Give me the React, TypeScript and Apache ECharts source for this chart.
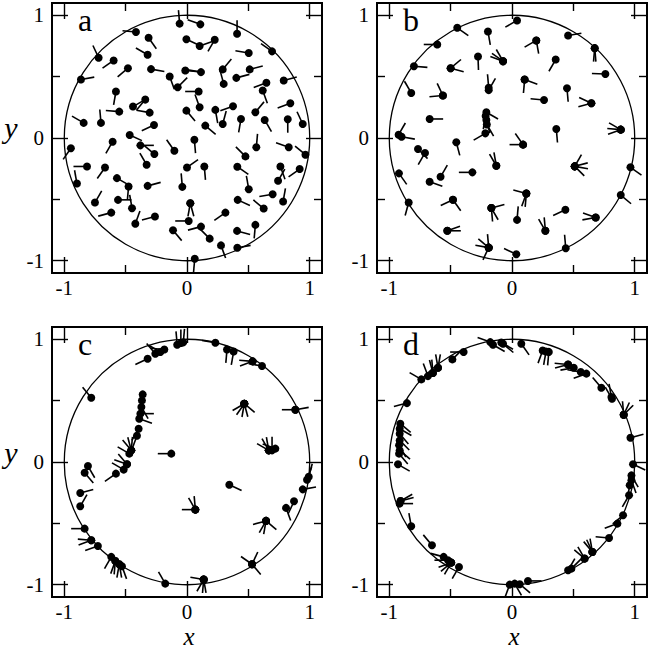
import React, { useEffect, useRef } from "react";
import * as echarts from "echarts";

// ---- data: [x, y, tail angle in degrees] (repeated x,y = several tails on one spot)
const PANEL_A: number[][] = [
  [-0.06, 0.932, 95], [0.109, 0.926, 160], [0.408, 0.85, 90], [-0.416, 0.864, 175],
  [-0.313, 0.817, -55], [-0.005, 0.804, -25], [0.103, 0.749, 20], [0.226, 0.801, -120],
  [-0.72, 0.654, 115], [-0.598, 0.632, -145], [-0.321, 0.678, 150], [0.503, 0.692, 170],
  [0.693, 0.706, 145], [-0.481, 0.569, -140], [-0.293, 0.561, -10], [-0.014, 0.55, -5],
  [0.114, 0.537, 170], [-0.141, 0.501, -70], [-0.076, 0.414, 45], [0.291, 0.559, 50],
  [0.299, 0.441, 105], [0.511, 0.559, 15], [0.402, 0.49, 15], [-0.864, 0.477, 10],
  [0.647, 0.45, -160], [0.788, 0.469, 15], [-0.579, 0.379, -100], [0.095, 0.379, 180],
  [0.617, 0.387, -70], [-0.34, 0.313, -130], [-0.44, 0.256, 30], [-0.552, 0.215, 175],
  [-0.304, 0.207, 170], [0.103, 0.251, 110], [-0.005, 0.223, -50], [0.231, 0.229, -80],
  [0.375, 0.259, -160], [0.557, 0.21, 50], [0.842, 0.283, -160], [-0.842, 0.123, 150],
  [-0.701, 0.123, 95], [-0.269, 0.106, -155], [0.149, 0.101, -40], [0.291, 0.114, 75],
  [0.44, 0.155, -100], [0.633, 0.147, -60], [0.821, 0.153, -90], [0.943, 0.114, 115],
  [-0.467, 0.025, -25], [-0.38, -0.06, 0], [-0.266, -0.131, 140], [-0.606, -0.03, -120],
  [-0.103, -0.104, 125], [0.06, -0.014, -85], [0.565, -0.076, 85], [0.829, -0.076, 160],
  [0.965, -0.136, 140], [0.476, -0.15, 135], [-0.946, -0.084, -125], [-0.329, -0.218, 120],
  [-0.815, -0.232, 180], [-0.668, -0.24, -125], [0, -0.24, 35], [0.141, -0.232, -85],
  [0.41, -0.234, -35], [0.761, -0.232, -70], [0.742, -0.349, 60], [-0.897, -0.371, 100],
  [-0.571, -0.327, -30], [-0.476, -0.395, -95], [-0.321, -0.39, 15], [-0.038, -0.398, 95],
  [0.503, -0.417, 100], [0.698, -0.458, -170], [0.783, -0.518, 80], [-0.75, -0.526, 60],
  [-0.562, -0.504, 0], [-0.448, -0.572, 100], [0.027, -0.531, -100], [0.027, -0.531, -75],
  [0.413, -0.504, -25], [0.625, -0.575, 140], [-0.617, -0.608, -165], [-0.261, -0.64, -165],
  [0.313, -0.608, -145], [-0.421, -0.698, 70], [0.014, -0.676, 180], [0.114, -0.722, -165],
  [0.557, -0.708, -95], [-0.114, -0.752, -50], [0.185, -0.82, 135], [0.408, -0.757, -15],
  [0.277, -0.875, -70], [0.41, -0.894, 10], [0.063, -0.984, -95], [0.918, -0.253, -145],
];

const PANEL_B: number[][] = [
  [0.041, 0.958, -150], [-0.446, 0.898, -35], [-0.196, 0.868, -80], [0.457, 0.835, 10],
  [0.198, 0.795, -150], [0.198, 0.795, -80], [-0.609, 0.762, 180],
  [0.674, 0.732, -95], [0.674, 0.732, -85], [-0.277, 0.664, -88],
  [-0.073, 0.626, 120], [-0.073, 0.626, 160], [-0.073, 0.626, 145],
  [0.356, 0.639, -120], [-0.799, 0.585, -5], [-0.5, 0.569, 40], [-0.5, 0.569, -15],
  [0.761, 0.522, 178], [0.103, 0.476, -20], [0.103, 0.476, -95],
  [-0.19, 0.41, 95], [-0.19, 0.39, 60], [0.448, 0.405, -85], [-0.821, 0.367, 120],
  [-0.563, 0.346, 115], [-0.563, 0.346, 185], [0.261, 0.31, 175],
  [0.647, 0.283, 155], [0.647, 0.283, -165], [-0.671, 0.155, 0],
  [-0.209, 0.21, -30], [-0.215, 0.18, -100], [-0.209, 0.147, -75], [-0.205, 0.11, -60],
  [-0.217, 0.038, -150], [0.361, 0.073, -85],
  [0.886, 0.068, 175], [0.886, 0.068, -160], [0.886, 0.068, 150],
  [-0.924, 0.027, 60], [-0.9, 0.01, -10], [-0.454, -0.035, -75],
  [0.09, -0.054, 125], [0.09, -0.054, 180], [-0.766, -0.09, -45], [-0.709, -0.122, -120],
  [-0.128, -0.226, 120], [-0.128, -0.226, 100],
  [0.511, -0.231, 60], [0.511, -0.231, 15], [0.511, -0.231, -10], [0.511, -0.231, -45],
  [0.965, -0.239, -35], [-0.921, -0.288, -55], [-0.582, -0.316, 60], [-0.323, -0.28, 180],
  [-0.671, -0.356, -20], [0.117, -0.452, 165], [0.117, -0.452, -110], [0.117, -0.452, -95],
  [0.886, -0.465, -40], [-0.842, -0.525, -105], [-0.481, -0.503, -155], [-0.481, -0.503, -55],
  [-0.168, -0.571, 15], [-0.168, -0.571, -85], [-0.168, -0.571, -60],
  [0.435, -0.585, -155], [0.041, -0.667, 85], [0.682, -0.648, 160], [0.682, -0.648, -170],
  [0.272, -0.756, 120], [0.272, -0.756, 95], [-0.527, -0.756, 20], [-0.527, -0.756, 0],
  [-0.19, -0.893, 140], [-0.19, -0.893, 170], [-0.19, -0.893, -115], [-0.19, -0.893, 95],
  [0.438, -0.898, 95], [0.035, -0.947, 155],
];

const PANEL_C: number[][] = [
  [-0.08, 0.955, 95], [-0.05, 0.97, 90], [-0.03, 0.975, 85], [0.231, 0.971, 170],
  [0.326, 0.917, -95], [0.38, 0.9, -100], [0.535, 0.82, -160], [0.535, 0.82, 175], [0.611, 0.782, 170],
  [-0.321, 0.841, -155], [-0.258, 0.882, 130], [-0.217, 0.896, 150], [-0.185, 0.917, 175],
  [-0.78, 0.524, 130],
  [0.467, 0.475, -150], [0.467, 0.475, -125], [0.467, 0.475, -100], [0.467, 0.475, -75], [0.467, 0.475, -40],
  [0.883, 0.426, 180], [0.883, 0.426, 10],
  [-0.361, 0.551, -100], [-0.367, 0.502, -95], [-0.372, 0.448, -60], [-0.38, 0.394, 0],
  [-0.389, 0.353, -20], [-0.394, 0.271, -120], [-0.408, 0.214, -110],
  [-0.454, 0.095, 130], [-0.454, 0.095, 105], [-0.454, 0.095, 85], [-0.47, 0.068, 150],
  [-0.489, -0.019, 160], [-0.489, -0.019, 130], [-0.516, -0.062, 150], [-0.579, -0.095, -145],
  [-0.128, 0.068, 180], [-0.807, -0.033, -60], [-0.834, -0.087, -50],
  [-0.87, -0.252, 15], [-0.87, -0.361, 60], [0.345, -0.185, -25],
  [0.068, -0.388, 180], [0.068, -0.388, 120], [0.068, -0.388, 95],
  [0.807, -0.374, -70], [0.872, -0.32, -115], [0.943, -0.223, 10], [0.978, -0.144, 70], [0.992, -0.12, 75],
  [0.644, -0.48, -165], [0.644, -0.48, -120], [0.644, -0.48, -100], [0.644, -0.48, -40],
  [0.666, 0.095, 150], [0.666, 0.095, 120], [0.666, 0.095, 100], [0.693, 0.095, 90], [0.72, 0.109, 160],
  [-0.834, -0.543, 180], [-0.78, -0.638, 175], [-0.78, -0.638, -160], [-0.726, -0.684, -160],
  [-0.617, -0.773, -120], [-0.584, -0.806, -110], [-0.584, -0.806, -95], [-0.552, -0.833, -100],
  [-0.552, -0.833, -80], [-0.53, -0.849, -70], [-0.177, -0.991, 120],
  [0.136, -0.958, 170], [0.136, -0.958, -120], [0.136, -0.958, -95], [0.136, -0.958, -80],
  [0.53, -0.833, 65], [0.53, -0.833, 145], [0.53, -0.833, -50],
];

const PANEL_D: number[][] = [
  [-0.177, 0.977, 160], [-0.155, 0.955, -30], [-0.087, 0.974, -30], [-0.073, 0.963, -40],
  [0.076, 0.963, -55], [0.25, 0.909, -110], [0.277, 0.9, -100], [0.3, 0.897, -95],
  [0.457, 0.795, -165], [0.457, 0.795, 175], [0.503, 0.768, -170], [0.56, 0.733, 170], [0.606, 0.72, -160],
  [0.728, 0.605, 130], [0.81, 0.529, 100], [0.815, 0.515, 120],
  [0.91, 0.385, 95], [0.91, 0.385, 65], [0.91, 0.385, 45], [0.965, 0.198, 15], [0.986, -0.019, -25],
  [0.973, -0.109, -60], [0.973, -0.149, -70], [0.959, -0.19, -100], [0.954, -0.271, -120],
  [0.905, -0.434, -140], [0.859, -0.502, -160], [0.791, -0.619, 175],
  [0.655, -0.733, 130], [0.655, -0.733, 115], [0.655, -0.733, 100], [0.592, -0.787, 140], [0.592, -0.787, 120],
  [0.457, -0.882, 60], [0.484, -0.869, 45],
  [-0.019, -0.999, -110], [0.022, -0.991, -60], [0.063, -0.996, -40], [0.13, -0.969, 0],
  [-0.432, -0.855, -120], [-0.495, -0.82, -160], [-0.495, -0.82, -140], [-0.495, -0.82, -120],
  [-0.522, -0.8, 180], [-0.557, -0.773, 165], [-0.652, -0.678, 130], [-0.821, -0.524, 100],
  [-0.908, -0.318, 30], [-0.908, -0.318, 15], [-0.916, -0.339, 0], [-0.929, -0.019, -30],
  [-0.92, 0.068, -50], [-0.915, 0.095, -40], [-0.92, 0.136, -60], [-0.915, 0.176, -45],
  [-0.915, 0.231, -50], [-0.915, 0.271, -30], [-0.91, 0.312, -40], [-0.856, 0.48, -165],
  [-0.739, 0.673, 150], [-0.685, 0.7, 110], [-0.644, 0.725, 105], [-0.644, 0.725, 95],
  [-0.603, 0.768, 100], [-0.603, 0.768, 80], [-0.486, 0.836, 45], [-0.394, 0.896, 180],
];

const PANELS = [PANEL_A, PANEL_B, PANEL_C, PANEL_D];
const PANEL_LABELS = ["a", "b", "c", "d"];
const MAJOR_TICKS = [-1, 0, 1];
const MINOR_TICKS = [-0.5, 0.5];
const CIRCLE = [[0, 0, 1]]; // centre x, centre y, radius
const AXIS_MIN = -1.1;
const AXIS_MAX = 1.1;
const TAIL = 0.11;

// ---- layout
const GRIDS = [
  { left: 52, top: 3 },
  { left: 377, top: 3 },
  { left: 52, top: 327 },
  { left: 377, top: 327 },
];
const SIZE = 270;
const SERIF = "Liberation Serif";

function makeAxis(gridIndex: number, position: string, ticks: number[], len: number, labels: boolean) {
  return {
    type: "value",
    gridIndex,
    position,
    min: AXIS_MIN,
    max: AXIS_MAX,
    splitLine: { show: false },
    axisLine: { show: true, onZero: false, lineStyle: { color: "#000", width: 2 } },
    axisTick: { show: true, inside: true, length: len, customValues: ticks, lineStyle: { color: "#000", width: 1.4 } },
    axisLabel: labels
      ? { show: true, customValues: ticks, margin: position === "bottom" ? 4 : 8, color: "#000", fontFamily: SERIF, fontSize: 21 }
      : { show: false },
  };
}

function axisText(text: string, x: number, y: number, size: number) {
  return {
    type: "text",
    x,
    y,
    style: { text, fontFamily: SERIF, fontStyle: "italic", fontSize: size, fill: "#000", align: "center", verticalAlign: "middle" },
  };
}

export default function App() {
  const ref = useRef<HTMLDivElement>(null);
  useEffect(() => {
    if (!ref.current) return;
    const chart = echarts.init(ref.current, null, { renderer: "svg" });
    const xAxis: any[] = [];
    const yAxis: any[] = [];
    const series: any[] = [];
    const graphic: any[] = [];
    GRIDS.forEach((g, i) => {
      xAxis.push(makeAxis(i, "bottom", MAJOR_TICKS, 16, true));
      xAxis.push(makeAxis(i, "bottom", MINOR_TICKS, 8, false));
      xAxis.push(makeAxis(i, "top", MAJOR_TICKS, 16, false));
      xAxis.push(makeAxis(i, "top", MINOR_TICKS, 8, false));
      yAxis.push(makeAxis(i, "left", MAJOR_TICKS, 16, true));
      yAxis.push(makeAxis(i, "left", MINOR_TICKS, 8, false));
      yAxis.push(makeAxis(i, "right", MAJOR_TICKS, 16, false));
      yAxis.push(makeAxis(i, "right", MINOR_TICKS, 8, false));
      const xi = i * 4;
      const yi = i * 4;
      series.push({
        type: "custom",
        xAxisIndex: xi,
        yAxisIndex: yi,
        data: CIRCLE,
        silent: true,
        renderItem: (params: any, api: any) => {
          const c = api.coord([api.value(0), api.value(1)]);
          const r = api.size([api.value(2), api.value(2)]);
          return {
            type: "circle",
            shape: { cx: c[0], cy: c[1], r: r[0] },
            style: { fill: "none", stroke: "#000", lineWidth: 1.3 },
          };
        },
      });
      series.push({
        type: "custom",
        xAxisIndex: xi,
        yAxisIndex: yi,
        data: PANELS[i],
        silent: true,
        renderItem: (params: any, api: any) => {
          const x = api.value(0);
          const y = api.value(1);
          const a = (api.value(2) * Math.PI) / 180;
          const p = api.coord([x, y]);
          const q = api.coord([x + TAIL * Math.cos(a), y + TAIL * Math.sin(a)]);
          return {
            type: "line",
            shape: { x1: p[0], y1: p[1], x2: q[0], y2: q[1] },
            style: { stroke: "#000", lineWidth: 1.6 },
          };
        },
      });
      series.push({
        type: "scatter",
        xAxisIndex: xi,
        yAxisIndex: yi,
        data: PANELS[i].map((d) => [d[0], d[1]]),
        symbol: "circle",
        symbolSize: 8,
        silent: true,
        itemStyle: { color: "#000", opacity: 1 },
      });
      graphic.push({
        type: "text",
        x: g.left + 26,
        y: g.top + 17,
        style: { text: PANEL_LABELS[i], fontFamily: SERIF, fontSize: 32, fill: "#000", verticalAlign: "middle" },
      });
    });
    graphic.push(axisText("y", 11, 127, 30));
    graphic.push(axisText("y", 11, 452, 30));
    graphic.push(axisText("x", 189, 636, 25));
    graphic.push(axisText("x", 514, 636, 25));

    chart.setOption({
      animation: false,
      backgroundColor: "#fff",
      grid: GRIDS.map((g) => ({ left: g.left, top: g.top, width: SIZE, height: SIZE, outerBoundsMode: "none", containLabel: false })),
      xAxis,
      yAxis,
      series,
      graphic,
    });
    return () => chart.dispose();
  }, []);
  return <div ref={ref} style={{ position: "fixed", left: 0, top: 0, width: 650, height: 650 }} />;
}
